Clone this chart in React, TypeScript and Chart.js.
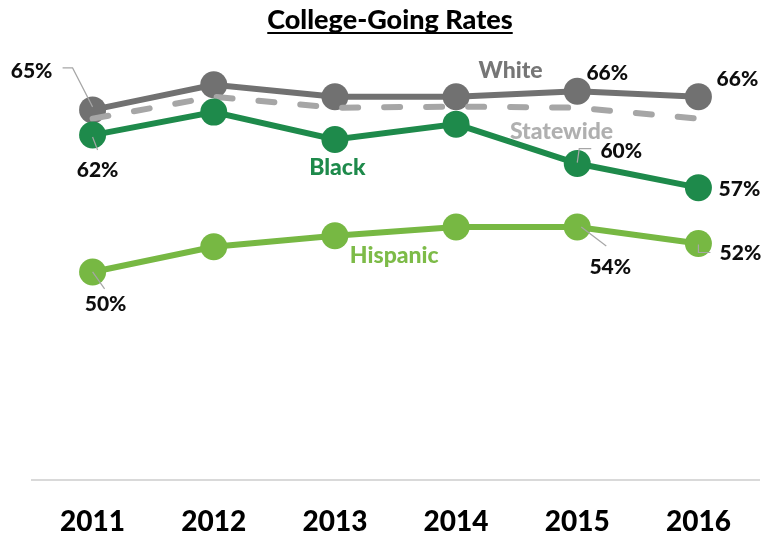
import React, { useEffect, useRef } from "react";
import { Chart, registerables } from "chart.js";

Chart.register(...registerables);

// ---------- data ----------
const chartTitle = "College-Going Rates";
const years = ["2011", "2012", "2013", "2014", "2015", "2016"];
const seriesNames = ["White", "Statewide", "Black", "Hispanic"];
const whiteRates = [64.5, 66.8, 65.7, 65.7, 66.2, 65.7];
const statewideRates = [63.7, 65.7, 64.7, 64.8, 64.7, 63.7];
const blackRates = [62.2, 64.3, 61.8, 63.2, 59.6, 57.4];
const hispanicRates = [49.7, 52.0, 53.0, 53.8, 53.8, 52.3];
// points that carry a value label
const whiteLabeled = [0, 4, 5];
const blackLabeled = [0, 4, 5];
const hispanicLabeled = [0, 4, 5];

// ---------- styling ----------
const FONT = "Lato, 'Open Sans', 'DejaVu Sans', sans-serif";
const W = "900";
const colors = {
  white: "#717171",
  statewide: "#a6a6a6",
  black: "#1e8a4b",
  hispanic: "#77b843",
  leader: "#a6a6a6",
};

// label offsets (px) relative to the point, optional leader polyline
type LabelStyle = { dx: number; dy: number; leader?: number[][] };
const labelStyles: Record<number, Record<number, LabelStyle>> = {
  0: {
    0: { dx: -61, dy: -39, leader: [[-30, -42], [-20, -42], [0, -3]] },
    4: { dx: 30, dy: -18 },
    5: { dx: 39, dy: -18 },
  },
  2: {
    0: { dx: 5, dy: 35, leader: [[0, 2], [5, 15]] },
    4: { dx: 44, dy: -12, leader: [[0, -1], [2, -15], [14, -15]] },
    5: { dx: 41, dy: 2 },
  },
  3: {
    0: { dx: 13, dy: 32, leader: [[0, 0], [12, 17]] },
    4: { dx: 33, dy: 40, leader: [[4, 0], [29, 19]] },
    5: { dx: 42, dy: 10, leader: [[0, 1], [0, 9], [12, 9]] },
  },
};

// series name anchors in (category index, value) space
const nameAnchors = [
  { idx: 3.45, val: 68.1, color: "#767676" },
  { idx: 3.87, val: 62.5, color: "#b0b0b0" },
  { idx: 2.02, val: 59.2, color: colors.black },
  { idx: 2.49, val: 51.2, color: "#7dbb48" },
];

const labeledSets: Record<number, number[]> = {
  0: whiteLabeled,
  2: blackLabeled,
  3: hispanicLabeled,
};

const overlayPlugin = {
  id: "overlay",
  afterDatasetsDraw(chart: any) {
    const ctx = chart.ctx;
    const xs = chart.scales.x;
    const ys = chart.scales.y;
    ctx.save();

    // title with underline
    ctx.font = `${W} 27px ${FONT}`;
    ctx.fillStyle = "#000";
    ctx.textAlign = "center";
    ctx.textBaseline = "alphabetic";
    const tx = 390;
    ctx.fillText(chartTitle, tx, 29);
    const tw = ctx.measureText(chartTitle).width;
    ctx.fillRect(tx - tw / 2, 32, tw, 2);

    // series names
    ctx.font = `${W} 23px ${FONT}`;
    ctx.textBaseline = "middle";
    nameAnchors.forEach((a, i) => {
      ctx.fillStyle = a.color;
      ctx.fillText(seriesNames[i], xs.getPixelForValue(a.idx), ys.getPixelForValue(a.val));
    });

    // value labels
    ctx.font = `${W} 21px ${FONT}`;
    Object.keys(labeledSets).forEach((k) => {
      const di = Number(k);
      const meta = chart.getDatasetMeta(di);
      const values = chart.data.datasets[di].data as number[];
      labeledSets[di].forEach((pi) => {
        const pt = meta.data[pi];
        const st = labelStyles[di][pi];
        if (st.leader) {
          ctx.strokeStyle = colors.leader;
          ctx.lineWidth = 1.2;
          ctx.beginPath();
          st.leader.forEach((p, j) => {
            const X = pt.x + p[0];
            const Y = pt.y + p[1];
            if (j === 0) ctx.moveTo(X, Y);
            else ctx.lineTo(X, Y);
          });
          ctx.stroke();
        }
        ctx.fillStyle = "#0d0d0d";
        ctx.fillText(Math.round(values[pi]) + "%", pt.x + st.dx, pt.y + st.dy);
      });
    });
    ctx.restore();
  },
};

export default function App() {
  const ref = useRef<HTMLCanvasElement | null>(null);

  useEffect(() => {
    document.body.style.margin = "0";
    const canvas = ref.current;
    if (!canvas) return;
    const chart = new Chart(canvas, {
      type: "line",
      data: {
        labels: years,
        datasets: [
          {
            label: seriesNames[0],
            data: whiteRates,
            borderColor: colors.white,
            backgroundColor: colors.white,
            borderWidth: 6,
            pointRadius: 13.5,
            pointHoverRadius: 13.5,
            pointBorderWidth: 0,
            pointBackgroundColor: colors.white,
            order: 3,
          },
          {
            label: seriesNames[1],
            data: statewideRates,
            borderColor: colors.statewide,
            backgroundColor: colors.statewide,
            borderWidth: 6,
            borderDash: [16, 26],
            borderCapStyle: "round",
            pointRadius: 0,
            pointHoverRadius: 0,
            order: 2,
          },
          {
            label: seriesNames[2],
            data: blackRates,
            borderColor: colors.black,
            backgroundColor: colors.black,
            borderWidth: 6,
            pointRadius: 13.5,
            pointHoverRadius: 13.5,
            pointBorderWidth: 0,
            pointBackgroundColor: colors.black,
            order: 1,
          },
          {
            label: seriesNames[3],
            data: hispanicRates,
            borderColor: colors.hispanic,
            backgroundColor: colors.hispanic,
            borderWidth: 6,
            pointRadius: 13.5,
            pointHoverRadius: 13.5,
            pointBorderWidth: 0,
            pointBackgroundColor: colors.hispanic,
            order: 4,
          },
        ],
      },
      options: {
        responsive: false,
        animation: false,
        events: [],
        layout: { padding: { left: 32, right: 17, top: 42, bottom: -28 } },
        plugins: {
          legend: { display: false },
          title: { display: false },
          tooltip: { enabled: false },
        },
        scales: {
          x: {
            offset: true,
            grid: { display: false, drawTicks: false },
            border: { display: true, color: "#d9d9d9", width: 2 },
            ticks: {
              color: "#000",
              padding: 28,
              font: { family: FONT, size: 28, weight: W, lineHeight: 1 },
            },
          },
          y: {
            display: false,
            min: 30.7,
            max: 70.7,
          },
        },
      },
      plugins: [overlayPlugin],
    });
    return () => chart.destroy();
  }, []);

  return (
    <div style={{ width: 776, height: 536 }}>
      <canvas ref={ref} width={776} height={536} style={{ display: "block" }} />
    </div>
  );
}
